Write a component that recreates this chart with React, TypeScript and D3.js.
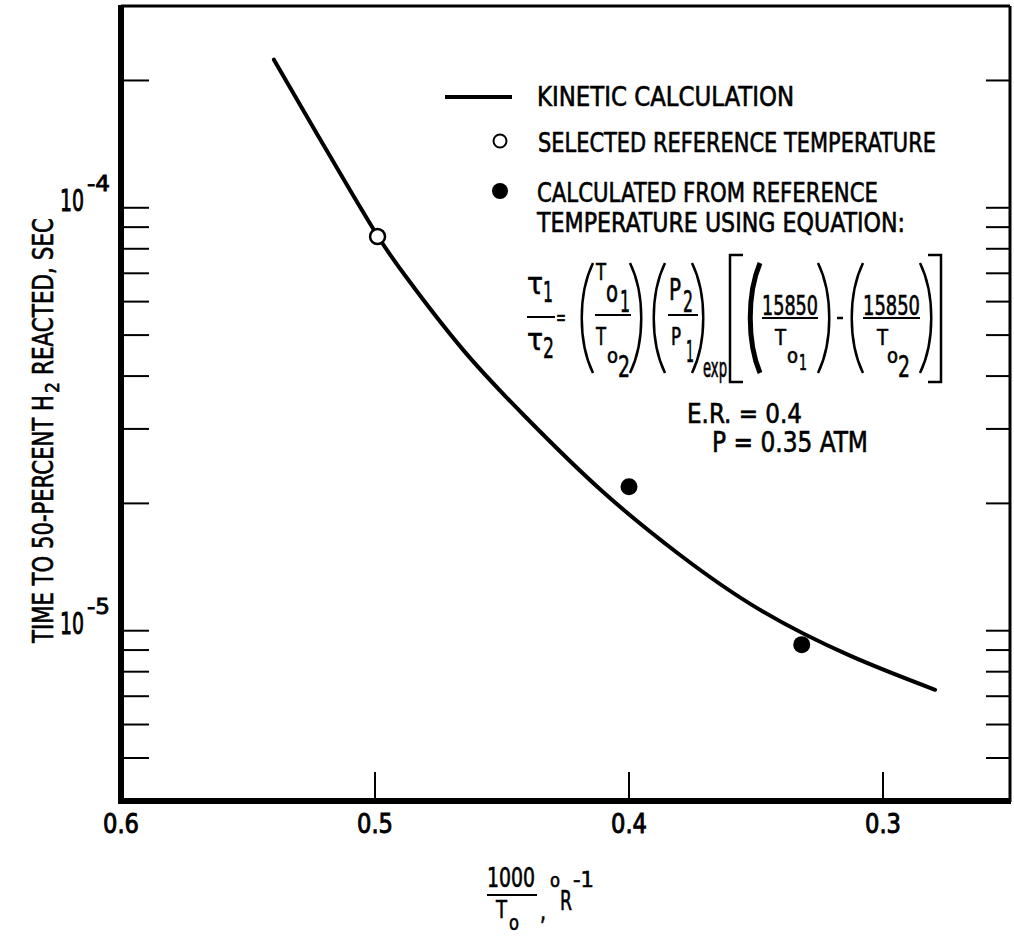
import React from 'react';
import * as d3 from 'd3';

// ---- data ----
const curveX = [0.5398, 0.523, 0.5098, 0.4988, 0.4875, 0.4654, 0.4409, 0.4114, 0.3799, 0.3484, 0.313, 0.2795];
const curveY = [2.24e-4, 1.5e-4, 1.1e-4, 8.55e-5, 6.83e-5, 4.62e-5, 3.21e-5, 2.16e-5, 1.51e-5, 1.12e-5, 8.73e-6, 7.25e-6];
const refX = [0.499];
const refY = [8.55e-5];
const calcX = [0.4, 0.332];
const calcY = [2.19e-5, 9.27e-6];
const xTickValues = [0.6, 0.5, 0.4, 0.3];
const xTickLabels = ['0.6', '0.5', '0.4', '0.3'];
const yTickValues = [5e-6, 6e-6, 7e-6, 8e-6, 9e-6, 1e-5, 2e-5, 3e-5, 4e-5, 5e-5, 6e-5, 7e-5, 8e-5, 9e-5, 1e-4, 2e-4];
const yLabelValues = [1e-4, 1e-5];
const yLabelExps = ['-4', '-5'];
const legendLabels = ['KINETIC CALCULATION', 'SELECTED REFERENCE TEMPERATURE', 'CALCULATED FROM REFERENCE', 'TEMPERATURE USING EQUATION:'];

const FONT = "'DejaVu Sans Condensed', 'DejaVu Sans', sans-serif";

const T = ({ x, y, len, size = 27, children, weight = 'normal', sw = 0.6 }: any) => (
  <text x={x} y={y} fontSize={size} textLength={len} lengthAdjust="spacingAndGlyphs" fontFamily={FONT} fontWeight={weight} fill="#000" stroke="#000" strokeWidth={sw}>
    {children}
  </text>
);

const paren = (x: number, open: boolean, top = 263, bottom = 373, w = 15) => {
  const h = bottom - top;
  if (open) return `M${x + w},${top} C${x},${top + h * 0.28} ${x},${bottom - h * 0.28} ${x + w},${bottom}`;
  return `M${x},${top} C${x + w},${top + h * 0.28} ${x + w},${bottom - h * 0.28} ${x},${bottom}`;
};

export default function App() {
  const x = d3.scaleLinear().domain([0.6, 0.25]).range([121, 1010]);
  const y = d3.scaleLog().domain([4e-6, 3e-4]).range([799, 6]);
  const pts = curveX.map((v, i) => [x(v), y(curveY[i])] as [number, number]);
  const line = d3.line().curve(d3.curveNatural)(pts) || '';
  const [x0, x1] = x.range();
  const [yb, yt] = y.range();

  return (
    <svg width={1014} height={936} style={{ position: 'absolute', left: 0, top: 0, background: '#fff' }}>
      <rect width={1014} height={936} fill="#fff" />
      {/* frame */}
      <line x1={x0} y1={yt} x2={x1} y2={yt} stroke="#000" strokeWidth={3} />
      <line x1={x1} y1={yt} x2={x1} y2={yb + 3} stroke="#000" strokeWidth={3} />
      <line x1={x0} y1={yt - 1} x2={x0} y2={yb + 5} stroke="#000" strokeWidth={6} />
      <line x1={x0 - 3} y1={yb + 2} x2={x1 + 1} y2={yb + 2} stroke="#000" strokeWidth={6} />
      {/* y ticks */}
      {yTickValues.map((v, i) => (
        <g key={'yt' + i}>
          <line x1={x0} x2={x0 + 28} y1={y(v)} y2={y(v)} stroke="#000" strokeWidth={2} />
          <line x1={x1 - 24} x2={x1} y1={y(v)} y2={y(v)} stroke="#000" strokeWidth={2} />
        </g>
      ))}
      {/* x ticks */}
      {xTickValues.slice(1).map((v, i) => (
        <line key={'xt' + i} x1={x(v)} x2={x(v)} y1={yb} y2={yb - 27} stroke="#000" strokeWidth={2} />
      ))}
      {/* x tick labels */}
      {xTickValues.map((v, i) => (
        <T key={'xl' + i} x={x(v) - 18} y={833} len={36} size={27} sw={0.9}>{xTickLabels[i]}</T>
      ))}
      {/* y tick labels */}
      {yLabelValues.map((v, i) => (
        <g key={'yl' + i}>
          <T x={60} y={y(v) + 3} len={24} size={30} sw={0.9}>10</T>
          <T x={87} y={y(v) - 17} len={23} size={22} sw={0.8}>{yLabelExps[i]}</T>
        </g>
      ))}
      {/* y axis title */}
      <g transform="translate(53,643) rotate(-90)">
        <T x={0} y={0} len={248} size={28}>TIME TO 50-PERCENT H</T>
        <T x={250} y={6} len={11} size={20}>2</T>
        <T x={268} y={0} len={157} size={28}>REACTED, SEC</T>
      </g>
      {/* x axis title */}
      <T x={487} y={887} len={48} size={26}>1000</T>
      <line x1={487} x2={537} y1={895} y2={895} stroke="#000" strokeWidth={2} />
      <T x={496} y={918} len={11} size={25}>T</T>
      <T x={509} y={930} len={10} size={22}>o</T>
      <T x={540} y={920} len={6} size={26}>,</T>
      <T x={550} y={887} len={10} size={20}>o</T>
      <T x={560} y={910} len={12} size={27}>R</T>
      <T x={573} y={887} len={21} size={22}>-1</T>

      {/* curve */}
      <path d={line} fill="none" stroke="#000" strokeWidth={4} strokeLinecap="round" />
      {refX.map((v, i) => (
        <circle key={'r' + i} cx={x(v)} cy={y(refY[i])} r={7.5} fill="#fff" stroke="#000" strokeWidth={2.5} />
      ))}
      {calcX.map((v, i) => (
        <circle key={'c' + i} cx={x(v)} cy={y(calcY[i])} r={8.5} fill="#000" />
      ))}

      {/* legend */}
      <line x1={445} x2={512} y1={97} y2={97} stroke="#000" strokeWidth={4} />
      <circle cx={500} cy={141} r={6.5} fill="#fff" stroke="#000" strokeWidth={2} />
      <circle cx={500} cy={191} r={8} fill="#000" />
      <T x={537} y={106} len={257}>{legendLabels[0]}</T>
      <T x={538} y={152} len={398}>{legendLabels[1]}</T>
      <T x={537} y={202} len={341}>{legendLabels[2]}</T>
      <T x={537} y={232} len={368}>{legendLabels[3]}</T>

      {/* equation */}
      <g>
        <T x={527} y={294} len={16} size={30}>τ</T>
        <T x={543} y={302} len={10} size={29}>1</T>
        <line x1={527} x2={555} y1={317} y2={317} stroke="#000" strokeWidth={2} />
        <T x={527} y={350} len={16} size={30}>τ</T>
        <T x={543} y={358} len={11} size={29}>2</T>
        <T x={556} y={325} len={10} size={22}>=</T>

        <path d={paren(578, true)} fill="none" stroke="#000" strokeWidth={2.5} />
        <T x={596} y={280} len={10} size={23}>T</T>
        <T x={606} y={302} len={12} size={30}>o</T>
        <T x={620} y={312} len={10} size={30}>1</T>
        <line x1={595} x2={631} y1={315} y2={315} stroke="#000" strokeWidth={2} />
        <T x={596} y={345} len={10} size={25}>T</T>
        <T x={607} y={363} len={11} size={22}>o</T>
        <T x={618} y={377} len={12} size={31}>2</T>
        <path d={paren(630, false)} fill="none" stroke="#000" strokeWidth={2.5} />

        <path d={paren(650, true)} fill="none" stroke="#000" strokeWidth={2.5} />
        <T x={669} y={300} len={12} size={30}>P</T>
        <T x={683} y={312} len={10} size={30}>2</T>
        <line x1={668} x2={698} y1={315} y2={315} stroke="#000" strokeWidth={2} />
        <T x={671} y={345} len={10} size={25}>P</T>
        <T x={686} y={362} len={8} size={30}>1</T>
        <path d={paren(692, false)} fill="none" stroke="#000" strokeWidth={2.5} />
        <T x={703} y={377} len={24} size={26}>exp</T>

        <path d="M743,255 H730 V382 H743" fill="none" stroke="#000" strokeWidth={2.5} />
        <path d={paren(747, true, 263, 373, 13)} fill="none" stroke="#000" strokeWidth={5} />
        <T x={762} y={315} len={56} size={27}>15850</T>
        <line x1={762} x2={818} y1={318} y2={318} stroke="#000" strokeWidth={2} />
        <T x={775} y={345} len={11} size={22}>T</T>
        <T x={787} y={363} len={11} size={21}>o</T>
        <T x={799} y={370} len={8} size={21}>1</T>
        <path d={paren(818, false)} fill="none" stroke="#000" strokeWidth={2.5} />
        <line x1={837} x2={843} y1={318} y2={318} stroke="#000" strokeWidth={2.5} />
        <path d={paren(848, true)} fill="none" stroke="#000" strokeWidth={2.5} />
        <T x={863} y={315} len={57} size={27}>15850</T>
        <line x1={863} x2={920} y1={318} y2={318} stroke="#000" strokeWidth={2} />
        <T x={877} y={345} len={11} size={22}>T</T>
        <T x={887} y={363} len={11} size={21}>o</T>
        <T x={898} y={377} len={12} size={31}>2</T>
        <path d={paren(920, false)} fill="none" stroke="#000" strokeWidth={2.5} />
        <path d="M928,255 H941 V382 H928" fill="none" stroke="#000" strokeWidth={2.5} />

        <T x={687} y={423} len={115} size={27}>E.R. = 0.4</T>
        <T x={712} y={452} len={156} size={29}>P = 0.35 ATM</T>
      </g>
    </svg>
  );
}
